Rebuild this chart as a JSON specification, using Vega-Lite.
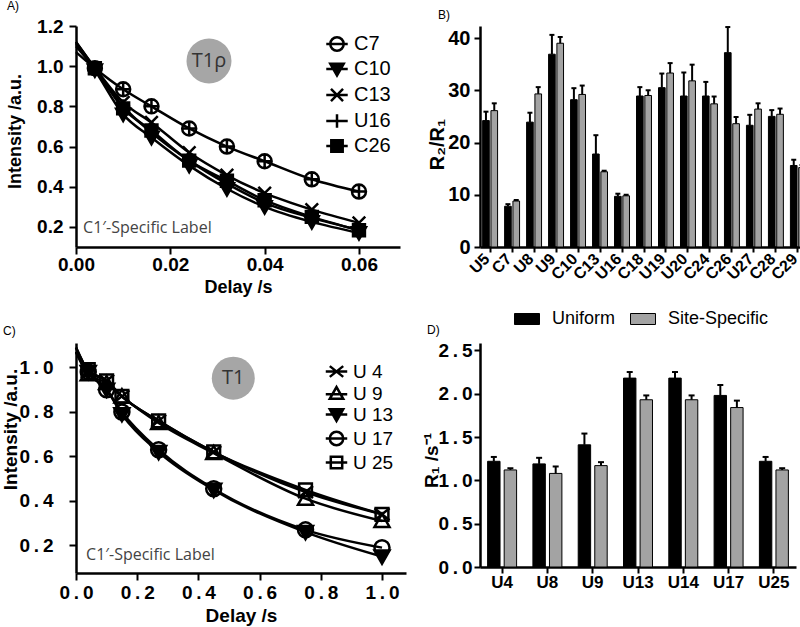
{
 "$schema": "https://vega.github.io/schema/vega-lite/v6.json",
 "autosize": {"type": "none"},
 "padding": {"left": 76, "top": 26, "right": 724, "bottom": 601},
 "background": "white",
 "config": {
  "view": {"stroke": null},
  "axis": {"domainColor": "black", "domainWidth": 2.5, "tickColor": "black", "tickWidth": 2, "tickSize": 7, "labelFont": "Liberation Sans", "labelFontWeight": "bold", "labelColor": "black", "titleFont": "Liberation Sans", "titleFontWeight": "bold", "titleColor": "black", "grid": false, "labelFlush": false, "labelOverlap": false},
  "legend": {"labelFont": "Liberation Sans", "labelColor": "black"},
  "title": {"font": "Liberation Sans", "fontSize": 12, "fontWeight": "normal", "anchor": "start", "frame": "group", "color": "black", "offset": 4}
 },
 "concat": [
  {
   "width": 324, "height": 221,
   "title": {"text": "A)", "dx": -69},
   "data": {"values": [
    {"s":"C7","x":0,"y":1.07,"k":"fit"},{"s":"C7","x":0.004,"y":0.99,"k":"pt"},{"s":"C7","x":0.01,"y":0.885,"k":"pt"},{"s":"C7","x":0.016,"y":0.8,"k":"pt"},{"s":"C7","x":0.024,"y":0.69,"k":"pt"},{"s":"C7","x":0.032,"y":0.6,"k":"pt"},{"s":"C7","x":0.04,"y":0.527,"k":"pt"},{"s":"C7","x":0.05,"y":0.437,"k":"pt"},{"s":"C7","x":0.06,"y":0.376,"k":"pt"},
    {"s":"C10","x":0,"y":1.11,"k":"fit"},{"s":"C10","x":0.004,"y":0.98,"k":"pt"},{"s":"C10","x":0.01,"y":0.76,"k":"pt"},{"s":"C10","x":0.016,"y":0.645,"k":"pt"},{"s":"C10","x":0.024,"y":0.505,"k":"pt"},{"s":"C10","x":0.032,"y":0.39,"k":"pt"},{"s":"C10","x":0.04,"y":0.3,"k":"pt"},{"s":"C10","x":0.05,"y":0.225,"k":"pt"},{"s":"C10","x":0.06,"y":0.17,"k":"pt"},
    {"s":"C13","x":0,"y":1.1,"k":"fit"},{"s":"C13","x":0.004,"y":0.99,"k":"pt"},{"s":"C13","x":0.01,"y":0.82,"k":"pt"},{"s":"C13","x":0.016,"y":0.72,"k":"pt"},{"s":"C13","x":0.024,"y":0.57,"k":"pt"},{"s":"C13","x":0.032,"y":0.457,"k":"pt"},{"s":"C13","x":0.04,"y":0.368,"k":"pt"},{"s":"C13","x":0.05,"y":0.286,"k":"pt"},{"s":"C13","x":0.06,"y":0.22,"k":"pt"},
    {"s":"U16","x":0,"y":1.12,"k":"fit"},{"s":"U16","x":0.004,"y":0.99,"k":"pt"},{"s":"U16","x":0.01,"y":0.8,"k":"pt"},{"s":"U16","x":0.016,"y":0.67,"k":"pt"},{"s":"U16","x":0.024,"y":0.53,"k":"pt"},{"s":"U16","x":0.032,"y":0.415,"k":"pt"},{"s":"U16","x":0.04,"y":0.32,"k":"pt"},{"s":"U16","x":0.05,"y":0.245,"k":"pt"},{"s":"U16","x":0.06,"y":0.185,"k":"pt"},
    {"s":"C26","x":0,"y":1.12,"k":"fit"},{"s":"C26","x":0.004,"y":0.99,"k":"pt"},{"s":"C26","x":0.01,"y":0.79,"k":"pt"},{"s":"C26","x":0.016,"y":0.68,"k":"pt"},{"s":"C26","x":0.024,"y":0.53,"k":"pt"},{"s":"C26","x":0.032,"y":0.43,"k":"pt"},{"s":"C26","x":0.04,"y":0.333,"k":"pt"},{"s":"C26","x":0.05,"y":0.25,"k":"pt"},{"s":"C26","x":0.06,"y":0.183,"k":"pt"}
   ]},
   "encoding": {
    "x": {"field": "x", "type": "quantitative", "scale": {"domain": [0, 0.0687], "nice": false, "zero": false}, "axis": {"values": [0, 0.02, 0.04, 0.06], "format": ".2f", "title": "Delay /s", "labelFontSize": 19, "titleFontSize": 18, "labelPadding": 1, "titlePadding": 4}},
    "y": {"field": "y", "type": "quantitative", "scale": {"domain": [0.1, 1.2], "nice": false, "zero": false}, "axis": {"values": [0.2, 0.4, 0.6, 0.8, 1.0, 1.2], "format": ".1f", "title": "Intensity /a.u.", "labelFontSize": 19, "titleFontSize": 18, "labelPadding": 6, "titleX": -61, "titleY": 105, "titleBaseline": "middle"}}
   },
   "layer": [
    {"mark": {"type": "line", "color": "black", "strokeWidth": 2.5, "interpolate": "monotone"}, "encoding": {"detail": {"field": "s"}}},
    {"transform": [{"filter": "datum.k == 'pt'"}], "mark": {"type": "point", "filled": true, "stroke": "black", "strokeWidth": 2.5, "size": 196, "opacity": 1},
     "encoding": {
      "shape": {"field": "s", "type": "nominal", "scale": {"domain": ["C7","C10","C13","U16","C26"], "range": ["M-1,0A1,1,0,1,1,1,0A1,1,0,1,1,-1,0ZM-1,0H1M0,-1V1", "M-1,-0.8L1,-0.8L0,0.95Z", "M-0.9,-0.9L0.9,0.9M-0.9,0.9L0.9,-0.9", "M-1,0H1M0,-1V1", "M-0.85,-0.85H0.85V0.85H-0.85Z"]}, "legend": null},
      "fill": {"field": "s", "type": "nominal", "scale": {"domain": ["C7","C10","C13","U16","C26"], "range": ["transparent","black","transparent","transparent","black"]}, "legend": null}
     }},
    {"transform": [{"filter": "false"}], "mark": {"type": "point", "filled": false, "color": "black", "strokeWidth": 2.5, "opacity": 1},
     "encoding": {
      "shape": {"field": "s", "type": "nominal", "scale": {"domain": ["C7","C10","C13","U16","C26"], "range": ["M-1,0A1,1,0,1,1,1,0A1,1,0,1,1,-1,0ZM-1.6,0H1.6", "M-1,-0.8L1,-0.8L0,0.95ZM-0.6,-0.567L0.6,-0.567L0,0.483ZM-0.25,-0.363L0.25,-0.363L0,0.075ZM-1.6,0H1.6", "M-0.9,-0.9L0.9,0.9M-0.9,0.9L0.9,-0.9M-1.6,0H1.6", "M-1.6,0H1.6M0,-1V1", "M-0.85,-0.85H0.85V0.85H-0.85ZM-0.5,-0.5H0.5V0.5H-0.5ZM-0.15,-0.15H0.15V0.15H-0.15ZM-1.6,0H1.6"]},
       "legend": {"orient": "none", "legendX": 251, "legendY": 8, "title": null, "symbolSize": 180, "symbolStrokeWidth": 2.5, "symbolStrokeColor": "black", "symbolFillColor": "transparent", "labelFontSize": 20, "labelOffset": 7, "rowPadding": 2}}
     }},
    {"data": {"values": [{"x": 0.0282, "y": 1.026, "t": "T1ρ"}]}, "mark": {"type": "point", "filled": true, "color": "#a6a6a6", "size": 2025, "shape": "circle", "opacity": 1}},
    {"data": {"values": [{"x": 0.0282, "y": 1.026, "t": "T1ρ"}]}, "mark": {"type": "text", "font": "Open Sans", "fontSize": 20, "color": "#333333", "align": "center", "baseline": "middle"}, "encoding": {"text": {"field": "t"}}},
    {"data": {"values": [{"x": 0.0015, "y": 0.194, "t": "C1′-Specific Label"}]}, "mark": {"type": "text", "font": "Open Sans", "fontSize": 16, "color": "#444444", "align": "left", "baseline": "middle"}, "encoding": {"text": {"field": "t"}}}
   ],
   "resolve": {"scale": {"shape": "independent"}}
  },
  {
   "width": 328, "height": 221,
   "title": {"text": "B)", "dx": -42},
   "data": {"values": [
    {"r":"U5","g":"Uniform","v":24.2,"hi":25.9},{"r":"U5","g":"Site-Specific","v":26.1,"hi":27.5},
    {"r":"C7","g":"Uniform","v":7.8,"hi":8.2},{"r":"C7","g":"Site-Specific","v":8.8,"hi":9.0},
    {"r":"U8","g":"Uniform","v":23.9,"hi":25.7},{"r":"U8","g":"Site-Specific","v":29.3,"hi":30.6},
    {"r":"U9","g":"Uniform","v":36.9,"hi":40.6},{"r":"U9","g":"Site-Specific","v":39.0,"hi":40.2},
    {"r":"C10","g":"Uniform","v":28.2,"hi":30.4},{"r":"C10","g":"Site-Specific","v":29.2,"hi":30.9},
    {"r":"C13","g":"Uniform","v":17.8,"hi":21.4},{"r":"C13","g":"Site-Specific","v":14.4,"hi":14.6},
    {"r":"U16","g":"Uniform","v":9.7,"hi":10.2},{"r":"U16","g":"Site-Specific","v":9.8,"hi":10.0},
    {"r":"C18","g":"Uniform","v":28.9,"hi":30.6},{"r":"C18","g":"Site-Specific","v":29.0,"hi":30.0},
    {"r":"U19","g":"Uniform","v":30.5,"hi":33.2},{"r":"U19","g":"Site-Specific","v":33.3,"hi":35.2},
    {"r":"U20","g":"Uniform","v":28.9,"hi":33.4},{"r":"U20","g":"Site-Specific","v":31.8,"hi":34.9},
    {"r":"C24","g":"Uniform","v":28.9,"hi":31.6},{"r":"C24","g":"Site-Specific","v":27.4,"hi":28.8},
    {"r":"C26","g":"Uniform","v":37.2,"hi":42.1},{"r":"C26","g":"Site-Specific","v":23.6,"hi":24.9},
    {"r":"U27","g":"Uniform","v":23.3,"hi":25.3},{"r":"U27","g":"Site-Specific","v":26.4,"hi":27.5},
    {"r":"C28","g":"Uniform","v":25.0,"hi":26.2},{"r":"C28","g":"Site-Specific","v":25.4,"hi":26.5},
    {"r":"C29","g":"Uniform","v":15.6,"hi":16.7},{"r":"C29","g":"Site-Specific","v":15.2,"hi":15.7}
   ]},
   "encoding": {
    "x": {"field": "r", "type": "nominal", "sort": null, "scale": {"paddingInner": 0.32, "paddingOuter": 0.12}, "axis": {"title": null, "labelAngle": -45, "labelAlign": "right", "labelBaseline": "middle", "labelFontSize": 16, "tickSize": 5, "labelPadding": 4, "labelOffset": -3}},
    "xOffset": {"field": "g", "type": "nominal", "scale": {"domain": ["Uniform", "Site-Specific"], "paddingInner": 0.2, "paddingOuter": 0}}
   },
   "layer": [
    {"mark": {"type": "bar", "stroke": "black", "strokeWidth": 1, "opacity": 1},
     "encoding": {
      "y": {"field": "v", "type": "quantitative", "scale": {"domain": [0, 42.3], "nice": false}, "axis": {"values": [0, 10, 20, 30, 40], "title": "R₂/R₁", "labelFontSize": 20, "titleFontSize": 20, "tickSize": 6, "labelPadding": 4, "titleX": -43, "titleY": 118, "titleBaseline": "middle"}},
      "color": {"field": "g", "type": "nominal", "scale": {"domain": ["Uniform", "Site-Specific"], "range": ["black", "#a3a3a3"]},
       "legend": {"orient": "none", "legendX": 34, "legendY": 280, "direction": "horizontal", "title": null, "symbolType": "M-1,-0.44H1V0.44H-1Z", "symbolSize": 625, "symbolStrokeColor": "black", "symbolStrokeWidth": 1, "labelFontSize": 18, "labelOffset": 12, "columnPadding": 12}}
     }},
    {"mark": {"type": "rule", "color": "black", "strokeWidth": 2}, "encoding": {"y": {"field": "v", "type": "quantitative"}, "y2": {"field": "hi"}}},
    {"mark": {"type": "tick", "color": "black", "thickness": 2, "size": 5, "opacity": 1}, "encoding": {"y": {"field": "hi", "type": "quantitative"}}}
   ]
  },
  {
   "width": 330, "height": 230,
   "title": {"text": "C)", "dx": -73},
   "data": {"values": [
    {"s":"U4","x":0,"y":1.07,"k":"fit"},{"s":"U4","x":0.04,"y":0.98,"k":"pt"},{"s":"U4","x":0.1,"y":0.94,"k":"pt"},{"s":"U4","x":0.15,"y":0.87,"k":"pt"},{"s":"U4","x":0.27,"y":0.76,"k":"pt"},{"s":"U4","x":0.45,"y":0.62,"k":"pt"},{"s":"U4","x":0.75,"y":0.44,"k":"pt"},{"s":"U4","x":1.0,"y":0.34,"k":"pt"},
    {"s":"U9","x":0,"y":1.07,"k":"fit"},{"s":"U9","x":0.04,"y":0.97,"k":"pt"},{"s":"U9","x":0.1,"y":0.93,"k":"pt"},{"s":"U9","x":0.15,"y":0.87,"k":"pt"},{"s":"U9","x":0.27,"y":0.75,"k":"pt"},{"s":"U9","x":0.45,"y":0.615,"k":"pt"},{"s":"U9","x":0.75,"y":0.41,"k":"pt"},{"s":"U9","x":1.0,"y":0.31,"k":"pt"},
    {"s":"U13","x":0,"y":1.09,"k":"fit"},{"s":"U13","x":0.04,"y":0.98,"k":"pt"},{"s":"U13","x":0.1,"y":0.9,"k":"pt"},{"s":"U13","x":0.15,"y":0.79,"k":"pt"},{"s":"U13","x":0.27,"y":0.62,"k":"pt"},{"s":"U13","x":0.45,"y":0.45,"k":"pt"},{"s":"U13","x":0.75,"y":0.26,"k":"pt"},{"s":"U13","x":1.0,"y":0.15,"k":"pt"},
    {"s":"U17","x":0,"y":1.09,"k":"fit"},{"s":"U17","x":0.04,"y":0.98,"k":"pt"},{"s":"U17","x":0.1,"y":0.9,"k":"pt"},{"s":"U17","x":0.15,"y":0.8,"k":"pt"},{"s":"U17","x":0.27,"y":0.63,"k":"pt"},{"s":"U17","x":0.45,"y":0.455,"k":"pt"},{"s":"U17","x":0.75,"y":0.27,"k":"pt"},{"s":"U17","x":1.0,"y":0.19,"k":"pt"},
    {"s":"U25","x":0,"y":1.07,"k":"fit"},{"s":"U25","x":0.04,"y":0.99,"k":"pt"},{"s":"U25","x":0.1,"y":0.94,"k":"pt"},{"s":"U25","x":0.15,"y":0.87,"k":"pt"},{"s":"U25","x":0.27,"y":0.76,"k":"pt"},{"s":"U25","x":0.45,"y":0.62,"k":"pt"},{"s":"U25","x":0.75,"y":0.45,"k":"pt"},{"s":"U25","x":1.0,"y":0.34,"k":"pt"}
   ]},
   "encoding": {
    "x": {"field": "x", "type": "quantitative", "scale": {"domain": [0, 1.0784], "nice": false, "zero": false}, "axis": {"values": [0, 0.2, 0.4, 0.6, 0.8, 1.0], "format": ".1f", "labelExpr": "replace(datum.label, '.', '\u2009.\u2009')", "title": "Delay /s", "labelFontSize": 19, "titleFontSize": 19, "labelPadding": 3, "titlePadding": 4}},
    "y": {"field": "y", "type": "quantitative", "scale": {"domain": [0.076, 1.11], "nice": false, "zero": false}, "axis": {"values": [0.2, 0.4, 0.6, 0.8, 1.0], "format": ".1f", "labelExpr": "replace(datum.label, '.', '\u2009.\u2009')", "title": "Intensity /a.u.", "labelFontSize": 19, "titleFontSize": 19, "labelPadding": 16, "titleX": -66, "titleY": 86, "titleBaseline": "middle"}}
   },
   "layer": [
    {"mark": {"type": "line", "color": "black", "strokeWidth": 2.5, "interpolate": "monotone"}, "encoding": {"detail": {"field": "s"}}},
    {"transform": [{"filter": "datum.k == 'pt'"}], "mark": {"type": "point", "filled": true, "stroke": "black", "strokeWidth": 2.5, "size": 225, "opacity": 1},
     "encoding": {
      "shape": {"field": "s", "type": "nominal", "scale": {"domain": ["U4","U9","U13","U17","U25"], "range": ["M-1,-0.8L1,0.8M-1,0.8L1,-0.8", "M-1,0.8L1,0.8L0,-0.95Z", "M-1,-0.8L1,-0.8L0,0.95Z", "M-1,0A1,1,0,1,1,1,0A1,1,0,1,1,-1,0Z", "M-0.85,-0.85H0.85V0.85H-0.85Z"]}, "legend": null},
      "fill": {"field": "s", "type": "nominal", "scale": {"domain": ["U4","U9","U13","U17","U25"], "range": ["transparent","transparent","black","transparent","transparent"]}, "legend": null}
     }},
    {"transform": [{"filter": "false"}], "mark": {"type": "point", "filled": false, "color": "black", "strokeWidth": 2.5, "opacity": 1},
     "encoding": {
      "shape": {"field": "s", "type": "nominal", "scale": {"domain": ["U4","U9","U13","U17","U25"], "range": ["M-1,-0.8L1,0.8M-1,0.8L1,-0.8M-1.6,0H1.6", "M-1,0.8L1,0.8L0,-0.95ZM-1.6,0.1H1.6", "M-1,-0.8L1,-0.8L0,0.95ZM-0.6,-0.567L0.6,-0.567L0,0.483ZM-0.25,-0.363L0.25,-0.363L0,0.075ZM-1.6,0H1.6", "M-1,0A1,1,0,1,1,1,0A1,1,0,1,1,-1,0ZM-1.6,0H1.6", "M-0.85,-0.85H0.85V0.85H-0.85ZM-1.6,0H1.6"]},
       "legend": {"orient": "none", "legendX": 251, "legendY": 19, "title": null, "symbolSize": 180, "symbolStrokeWidth": 2.5, "symbolStrokeColor": "black", "symbolFillColor": "transparent", "labelFontSize": 19, "labelOffset": 7, "rowPadding": 0, "labelExpr": "replace(datum.label, 'U', 'U ')"}}
     }},
    {"data": {"values": [{"x": 0.514, "y": 0.952, "t": "T1"}]}, "mark": {"type": "point", "filled": true, "color": "#a6a6a6", "size": 1849, "shape": "circle", "opacity": 1}},
    {"data": {"values": [{"x": 0.514, "y": 0.952, "t": "T1"}]}, "mark": {"type": "text", "font": "Open Sans", "fontSize": 20, "color": "#333333", "align": "center", "baseline": "middle"}, "encoding": {"text": {"field": "t"}}},
    {"data": {"values": [{"x": 0.033, "y": 0.155, "t": "C1′-Specific Label"}]}, "mark": {"type": "text", "font": "Open Sans", "fontSize": 16, "color": "#444444", "align": "left", "baseline": "middle"}, "encoding": {"text": {"field": "t"}}}
   ],
   "resolve": {"scale": {"shape": "independent"}}
  },
  {
   "width": 316, "height": 224,
   "title": {"text": "D)", "dx": -53},
   "data": {"values": [
    {"r":"U4","g":"Uniform","v":1.22,"hi":1.27},{"r":"U4","g":"Site-Specific","v":1.12,"hi":1.14},
    {"r":"U8","g":"Uniform","v":1.19,"hi":1.26},{"r":"U8","g":"Site-Specific","v":1.08,"hi":1.16},
    {"r":"U9","g":"Uniform","v":1.41,"hi":1.54},{"r":"U9","g":"Site-Specific","v":1.17,"hi":1.21},
    {"r":"U13","g":"Uniform","v":2.18,"hi":2.25},{"r":"U13","g":"Site-Specific","v":1.93,"hi":1.98},
    {"r":"U14","g":"Uniform","v":2.18,"hi":2.25},{"r":"U14","g":"Site-Specific","v":1.93,"hi":1.98},
    {"r":"U17","g":"Uniform","v":1.98,"hi":2.10},{"r":"U17","g":"Site-Specific","v":1.84,"hi":1.92},
    {"r":"U25","g":"Uniform","v":1.22,"hi":1.27},{"r":"U25","g":"Site-Specific","v":1.12,"hi":1.14}
   ]},
   "encoding": {
    "x": {"field": "r", "type": "nominal", "sort": null, "scale": {"paddingInner": 0.36, "paddingOuter": 0.168}, "axis": {"title": null, "labelAngle": 0, "labelFontSize": 17, "tickSize": 6, "labelPadding": 1}},
    "xOffset": {"field": "g", "type": "nominal", "scale": {"domain": ["Uniform", "Site-Specific"], "paddingInner": 0.25, "paddingOuter": 0}}
   },
   "layer": [
    {"mark": {"type": "bar", "stroke": "black", "strokeWidth": 1, "opacity": 1},
     "encoding": {
      "y": {"field": "v", "type": "quantitative", "scale": {"domain": [0, 2.585], "nice": false}, "axis": {"values": [0, 0.5, 1.0, 1.5, 2.0, 2.5], "format": ".1f", "labelExpr": "replace(datum.label, '.', '\u2009.\u2009')", "title": "R₁ /s⁻¹", "labelFontSize": 19, "titleFontSize": 19, "tickSize": 6, "labelPadding": 2, "titleX": -49, "titleY": 117, "titleBaseline": "middle"}},
      "color": {"field": "g", "type": "nominal", "scale": {"domain": ["Uniform", "Site-Specific"], "range": ["black", "#a3a3a3"]}, "legend": null}
     }},
    {"mark": {"type": "rule", "color": "black", "strokeWidth": 2}, "encoding": {"y": {"field": "v", "type": "quantitative"}, "y2": {"field": "hi"}}},
    {"mark": {"type": "tick", "color": "black", "thickness": 2, "size": 6, "opacity": 1}, "encoding": {"y": {"field": "hi", "type": "quantitative"}}}
   ]
  }
 ],
 "columns": 2,
 "align": "none",
 "bounds": "flush",
 "spacing": {"row": 96, "column": 74},
 "resolve": {"scale": {"color": "independent", "fill": "independent", "shape": "independent", "xOffset": "independent"}}
}
